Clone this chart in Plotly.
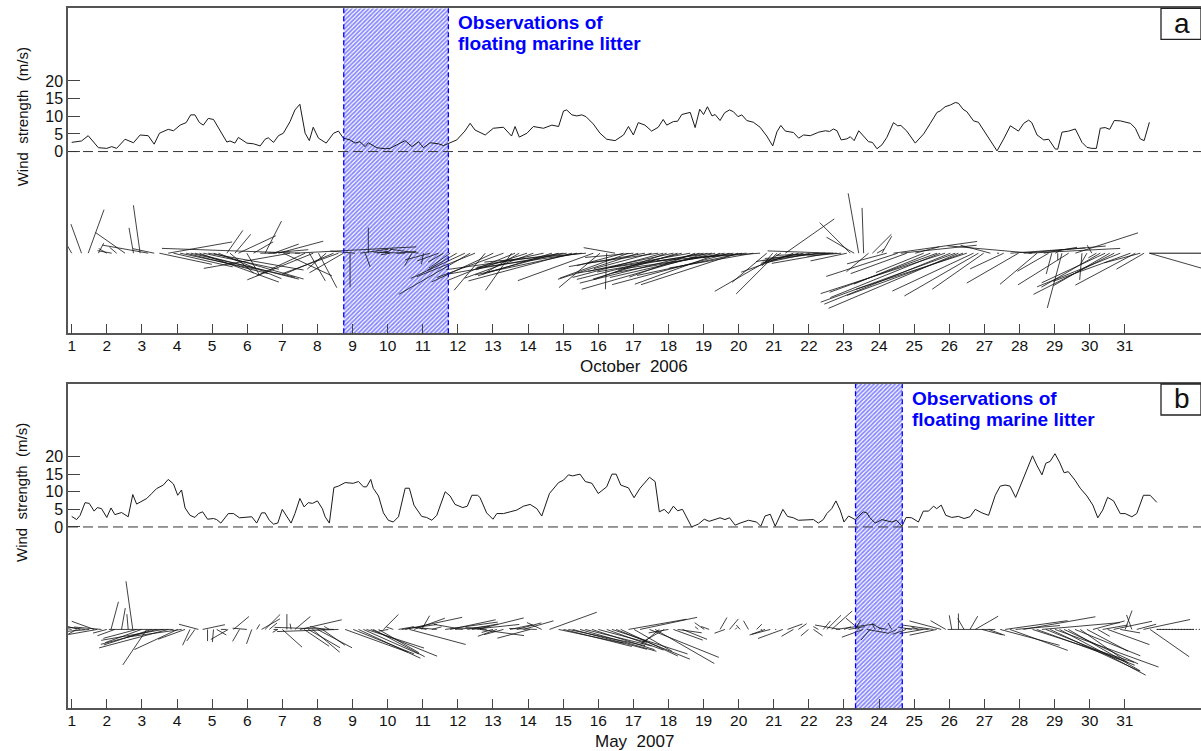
import math
import plotly.graph_objects as go

# ---------------- data ----------------
# Panel a: October 2006  (time in days, wind speed m/s, stick direction deg, 0=east/right, 90=up)
t_a = [1.0, 1.28, 1.47, 1.76, 2.0, 2.14, 2.28, 2.52, 2.76, 2.95, 3.18, 3.35, 3.5, 3.75, 3.9,
       4.09, 4.26, 4.39, 4.51, 4.64, 4.75, 4.89, 5.04, 5.18, 5.42, 5.51, 5.65, 5.75, 5.99, 6.18,
       6.37, 6.51, 6.6, 6.75, 6.89, 7.03, 7.22, 7.36, 7.5, 7.65, 7.77, 7.88, 8.03, 8.25, 8.46,
       8.6, 8.74, 8.93, 9.07, 9.21, 9.36, 9.45, 9.69, 9.93, 10.07, 10.26, 10.5, 10.69, 10.88, 11.02,
       11.21, 11.45, 11.59, 11.78, 11.97, 12.2, 12.35, 12.49, 12.78, 13.01, 13.3, 13.53, 13.63, 13.75, 13.97,
       14.15, 14.44, 14.68, 14.87, 15.01, 15.1, 15.25, 15.39, 15.53, 15.65, 15.86, 16.05, 16.24, 16.48, 16.72,
       16.86, 17.0, 17.14, 17.33, 17.52, 17.71, 17.85, 17.95, 18.14, 18.26, 18.38, 18.62, 18.76, 18.89, 19.0,
       19.11, 19.24, 19.33, 19.47, 19.6, 19.74, 19.85, 19.98, 20.09, 20.23, 20.42, 20.61, 20.8, 20.97, 21.09,
       21.2, 21.33, 21.56, 21.71, 21.85, 22.04, 22.28, 22.47, 22.59, 22.7, 22.8, 22.92, 23.08, 23.18, 23.29,
       23.42, 23.56, 23.7, 23.81, 23.94, 24.08, 24.22, 24.41, 24.53, 24.62, 24.79, 25.03, 25.27, 25.46, 25.65,
       25.74, 25.88, 26.03, 26.17, 26.26, 26.39, 26.5, 26.69, 26.83, 26.98, 27.17, 27.36, 27.55, 27.74, 27.97,
       28.12, 28.26, 28.35, 28.5, 28.69, 28.83, 28.92, 29.02, 29.09, 29.21, 29.4, 29.59, 29.78, 29.92, 30.06,
       30.19, 30.3, 30.44, 30.57, 30.7, 30.87, 31.16, 31.3, 31.44, 31.55, 31.7]
v_a = [2.6, 3.0, 4.5, 1.1, 0.9, 1.4, 0.9, 3.5, 2.5, 4.7, 4.5, 2.1, 5.2, 6.3, 5.9,
       7.5, 8.2, 10.4, 10.4, 8.2, 7.5, 9.4, 9.1, 6.6, 2.7, 3.0, 2.4, 4.0, 2.4, 2.2,
       1.6, 3.5, 3.9, 2.6, 4.5, 5.2, 8.5, 11.8, 13.4, 5.2, 3.1, 6.9, 3.8, 2.4, 5.2,
       5.8, 3.8, 3.3, 2.4, 2.8, 1.4, 2.5, 1.1, 0.8, 0.9, 1.9, 3.1, 1.4, 2.8, 1.1,
       2.5, 2.2, 1.7, 2.5, 3.3, 5.8, 8.0, 6.1, 4.7, 6.6, 6.9, 4.4, 7.1, 4.1, 5.2,
       7.1, 6.6, 7.5, 7.1, 11.5, 11.8, 10.4, 10.1, 10.4, 9.9, 7.8, 5.2, 3.5, 3.1, 4.7,
       7.1, 4.7, 8.2, 7.5, 5.8, 6.9, 9.1, 7.5, 8.5, 8.6, 10.5, 11.1, 6.8, 12.0, 10.5,
       12.7, 10.1, 10.5, 8.8, 11.0, 11.8, 11.3, 9.9, 10.4, 8.8, 8.3, 6.9, 4.4, 1.6, 5.6,
       7.4, 5.8, 5.4, 3.8, 4.7, 4.5, 5.5, 5.9, 5.7, 6.4, 5.9, 3.3, 3.6, 4.2, 3.1,
       5.9, 4.4, 2.8, 2.6, 0.8, 1.9, 4.0, 8.2, 7.3, 7.4, 5.8, 2.4, 5.0, 8.0, 11.1,
       11.5, 12.7, 13.2, 13.9, 13.7, 12.0, 11.3, 8.7, 8.3, 6.1, 3.0, 0.2, 3.6, 7.3, 5.8,
       8.0, 8.9, 8.2, 4.7, 3.3, 3.5, 2.1, 0.7, 0.7, 5.5, 5.8, 6.4, 2.6, 1.2, 0.9,
       0.9, 6.6, 6.8, 6.3, 8.8, 8.7, 8.0, 6.6, 3.6, 3.1, 8.3]
dir_a = [120, 110, 70, 62, 150, 170, 140, 145, 100, 98, 170, 168, -12, 10, -13,
         -12, -14, -13, -14, -20, -12, -10, -16, -22, 55, -40, 50, 25, -60, 30,
         0, 63, 5, 20, 15, -25, -170, 3, 178, -155, -60, -158, -62, -140, -157,
         -160, -150, -90, 175, 8, -70, 90, 10, 30, -170, 5, 178, -120, 172, -100,
         -165, -160, -150, -145, -150, -155, -150, -158, -130, -155, -160, -125, -158, -150, -162,
         -160, -168, -163, -165, -172, -170, -165, -168, -172, -175, -160, -140, -92, 170, -165,
         -160, -175, -162, -170, -165, -172, -165, -160, -168, -163, -166, -170, -160, -166, -170,
         -164, -172, -167, -160, -170, -165, -172, -162, -168, -175, -170, -176, -140, -130, -135,
         -150, 35, -160, -165, -170, -168, -172, -175, -170, 178, -178, -175, -168, 135, 150,
         100, 92, -140, 45, 30, 60, -165, 8, -162, 6, -160, 15, -158, -158, -160,
         -158, -162, -158, -160, -157, -160, -162, -155, -150, -145, 165, 0, -155, 4, -150,
         5, 3, 175, -140, 10, -150, -105, 30, -90, -105, -148, 18, -95, -120, 120,
         -150, -150, -155, -150, -153, -158, -160, -152, -165, -150, -16]

# Panel b: May 2007
t_b = [1.0, 1.14, 1.24, 1.38, 1.5, 1.64, 1.73, 1.85, 2.0, 2.12, 2.23, 2.42, 2.61, 2.74, 2.85,
       2.99, 3.14, 3.28, 3.42, 3.61, 3.75, 3.9, 4.02, 4.13, 4.23, 4.37, 4.51, 4.61, 4.73, 4.87,
       5.04, 5.13, 5.25, 5.46, 5.61, 5.78, 5.99, 6.13, 6.27, 6.41, 6.51, 6.63, 6.75, 6.87, 7.0,
       7.13, 7.25, 7.36, 7.5, 7.62, 7.74, 7.86, 8.0, 8.14, 8.22, 8.34, 8.47, 8.6, 8.79, 9.02,
       9.17, 9.31, 9.4, 9.52, 9.59, 9.74, 9.88, 10.02, 10.16, 10.31, 10.4, 10.5, 10.62, 10.75, 10.97,
       11.11, 11.26, 11.4, 11.64, 11.78, 11.92, 12.14, 12.27, 12.4, 12.56, 12.63, 12.82, 13.0, 13.11, 13.3,
       13.49, 13.68, 13.87, 14.06, 14.25, 14.39, 14.61, 14.87, 15.01, 15.15, 15.27, 15.48, 15.63, 15.82, 16.0,
       16.24, 16.39, 16.51, 16.64, 16.86, 17.02, 17.19, 17.46, 17.62, 17.74, 17.88, 18.0, 18.14, 18.26, 18.4,
       18.66, 18.85, 19.02, 19.16, 19.47, 19.61, 19.74, 19.9, 20.04, 20.28, 20.51, 20.63, 20.75, 20.9, 21.04,
       21.26, 21.39, 21.56, 21.7, 21.99, 22.13, 22.27, 22.41, 22.51, 22.65, 22.77, 22.89, 23.0, 23.13, 23.32,
       23.44, 23.55, 23.65, 23.74, 23.89, 24.08, 24.24, 24.36, 24.5, 24.65, 24.77, 24.93, 25.12, 25.26, 25.41,
       25.55, 25.64, 25.77, 25.9, 26.07, 26.26, 26.42, 26.59, 26.74, 26.93, 27.12, 27.31, 27.45, 27.59, 27.73,
       27.89, 28.11, 28.37, 28.49, 28.64, 28.75, 28.87, 29.01, 29.14, 29.27, 29.39, 29.58, 29.73, 29.92, 30.09,
       30.23, 30.37, 30.51, 30.68, 30.87, 31.01, 31.2, 31.34, 31.53, 31.72, 31.91]
v_b = [3.0, 2.1, 3.3, 6.9, 6.7, 4.5, 5.5, 5.2, 2.7, 5.4, 3.5, 4.1, 2.9, 9.2, 6.5,
       7.3, 8.1, 9.5, 10.9, 11.9, 13.5, 12.2, 9.0, 10.5, 5.4, 3.3, 2.7, 3.8, 4.3, 2.2,
       2.4, 2.1, 1.1, 3.8, 3.8, 2.6, 2.7, 2.9, 1.1, 4.0, 4.0, 1.9, 0.8, 1.1, 5.0,
       2.9, 1.1, 3.8, 8.1, 5.7, 6.9, 6.7, 7.4, 5.2, 2.9, 1.1, 11.2, 11.6, 12.6, 12.4,
       12.9, 11.4, 11.4, 13.5, 11.0, 8.8, 4.0, 1.9, 1.4, 2.9, 6.7, 11.0, 11.0, 6.2, 3.0,
       2.7, 1.9, 3.3, 10.0, 8.8, 6.4, 5.5, 5.9, 9.0, 9.0, 8.4, 4.0, 2.2, 3.8, 3.8,
       4.3, 4.8, 5.9, 6.4, 5.2, 3.1, 9.5, 12.6, 13.3, 14.8, 14.5, 15.0, 12.9, 12.4, 9.5,
       11.4, 15.0, 15.0, 11.9, 11.1, 8.3, 11.0, 14.1, 12.9, 4.3, 5.0, 3.8, 5.9, 4.6, 5.0,
       0.0, 0.8, 2.2, 1.6, 2.6, 2.1, 2.6, 0.5, 1.1, 1.9, 1.4, 0.2, 3.1, 3.6, 0.2,
       5.0, 3.0, 2.6, 1.9, 1.9, 2.1, 1.1, 2.1, 3.8, 5.2, 7.4, 4.8, 1.4, 3.1, 2.1,
       3.3, 4.3, 4.0, 2.6, 1.1, 2.1, 1.7, 1.4, 1.9, 0.2, 2.7, 2.6, 1.4, 4.5, 4.5,
       5.9, 5.2, 6.2, 3.3, 2.7, 3.0, 2.4, 2.9, 5.0, 4.0, 3.3, 9.0, 11.6, 11.9, 11.6,
       8.4, 13.8, 20.2, 17.6, 14.8, 18.1, 18.6, 20.8, 18.4, 15.4, 15.7, 13.3, 11.0, 8.8, 6.2,
       2.6, 4.8, 8.4, 7.4, 3.8, 3.8, 2.9, 3.8, 9.0, 9.0, 7.0]
dir_b = [170, -150, 168, 172, -175, 160, -170, 175, -165, 75, -160, 80, 95, 98, -165,
         -160, -124, -162, -165, -170, -165, 180, -155, -172, -160, -115, -125, 165, 12, -90,
         -95, -30, 0, -150, 40, -120, 175, -110, 60, 30, 45, 40, 0, -150, -42,
         90, 100, 40, 13, -34, -30, -40, -28, -35, 170, 150, 178, -178, -20, -22,
         -25, -24, -18, -22, -28, -30, 45, -170, 160, 10, 8, 12, -15, 20, 60,
         170, 15, 175, 8, 12, 5, 170, 10, 6, 14, -8, 175, -165, -160, -165,
         12, 15, 16, -165, 178, 155, 20, -12, -14, -12, -15, -16, -14, -18, -15,
         -20, -18, -22, -25, 10, -30, 12, -22, -30, -140, -150, -170, -20, -8, -22,
         0, 140, 145, 160, 60, -160, 50, 45, 130, 120, 45, 0, -160, -165, 0,
         -160, 20, -150, 35, -140, -35, 150, 50, 45, 42, 8, 170, 20, 10, 60,
         140, -160, -10, -130, 120, 150, 170, 120, -155, 0, -160, 170, 160, -170, 178,
         172, -168, 165, 150, 100, 90, 120, 60, 30, -15, -20, 180, -15, 8, -20,
         5, 10, -18, -20, 5, -22, -25, -20, -28, -25, -30, -22, -35, -28, 15,
         -30, 10, -20, 12, -10, 70, 110, 15, 12, -35, 0]

day_ticks = list(range(1, 32))
strength_ticks = [0, 5, 10, 15, 20]
obs_a = [8.75, 11.73]          # observation window, October 2006
obs_b = [23.33, 24.66]         # observation window, May 2007
month_a = "October\u00a0 2006"
month_b = "May\u00a0 2007"
ylabel = "Wind\u00a0 strength\u00a0 (m/s)"
obs_lines = ["Observations of", "floating marine litter"]

# ---------------- geometry ----------------
W, H = 1201, 751
LEFT_PX = 68
X_RANGE = [0.895, 33.17]
Y_RANGE = [-51.5, 40.6]
dom_a = [1 - 333.3 / H, 1 - 8.3 / H]
dom_b = [1 - 708.3 / H, 1 - 384.0 / H]
plot_h_px = (dom_a[1] - dom_a[0]) * H
px_per_day = (W - LEFT_PX) / (X_RANGE[1] - X_RANGE[0])
px_per_unit = plot_h_px / (Y_RANGE[1] - Y_RANGE[0])

BASE_A, BASE_B = -28.8, -29.1       # stick-plot baselines (axis units)
SCALE_A, SCALE_B = 10.3, 5.3        # stick length, px per m/s

FONT = "Liberation Sans, Arial, Helvetica, sans-serif"
BLUE = "#0000ff"


def sticks(t, v, d, base, scale):
    xs, ys = [], []
    for ti, vi, di in zip(t, v, d):
        L = vi * scale
        a = math.radians(di)
        xs += [ti, ti + L * math.cos(a) / px_per_day, None]
        ys += [base, base + L * math.sin(a) / px_per_unit, None]
    return xs, ys


fig = go.Figure()

for (xa, ya, obs) in [("x", "y", obs_a), ("x2", "y2", obs_b)]:
    fig.add_trace(go.Scatter(
        x=[obs[0], obs[1], obs[1], obs[0], obs[0]],
        y=[Y_RANGE[0], Y_RANGE[0], Y_RANGE[1], Y_RANGE[1], Y_RANGE[0]],
        xaxis=xa, yaxis=ya, mode="lines", fill="toself",
        line=dict(width=0, color="rgba(0,0,0,0)"),
        fillcolor="rgba(255,255,255,0)",
        fillpattern=dict(shape="/", fgcolor="#1010ff", bgcolor="#ffffff",
                         size=3, solidity=0.6),
        hoverinfo="skip", showlegend=False))

for (xa, ya, t, v, d, base, scale) in [("x", "y", t_a, v_a, dir_a, BASE_A, SCALE_A),
                                       ("x2", "y2", t_b, v_b, dir_b, BASE_B, SCALE_B)]:
    fig.add_trace(go.Scatter(x=t, y=v, xaxis=xa, yaxis=ya, mode="lines",
                             line=dict(color="#1a1a1a", width=1), showlegend=False))
    sx, sy = sticks(t, v, d, base, scale)
    fig.add_trace(go.Scatter(x=sx, y=sy, xaxis=xa, yaxis=ya, mode="lines",
                             line=dict(color="#111111", width=0.8), showlegend=False,
                             hoverinfo="skip"))

# baseline continuation to the right edge
fig.add_trace(go.Scatter(x=[t_a[-1], X_RANGE[1]], y=[BASE_A, BASE_A], xaxis="x", yaxis="y",
                         mode="lines", line=dict(color="#111111", width=1), showlegend=False))
fig.add_trace(go.Scatter(x=[t_b[-1], X_RANGE[1]], y=[BASE_B, BASE_B], xaxis="x2", yaxis="y2",
                         mode="lines", line=dict(color="#111111", width=1, dash="1px,2px"),
                         showlegend=False))

shapes = []
annotations = []
for (xr, yr, obs, dom, label, month) in [("x", "y", obs_a, dom_a, "a", month_a),
                                          ("x2", "y2", obs_b, dom_b, "b", month_b)]:
    # zero line
    shapes.append(dict(type="line", xref=xr + " domain", yref=yr, x0=0, x1=1, y0=0, y1=0,
                       line=dict(color="#333333", width=1, dash="10px,5px")))
    # dashed edges of the observation window
    for xe in obs:
        shapes.append(dict(type="line", xref=xr, yref=yr + " domain", x0=xe, x1=xe, y0=0, y1=1,
                           line=dict(color=BLUE, width=1.3, dash="5px,3px")))
    # panel label box
    top_px = (1 - dom[1]) * H
    shapes.append(dict(type="rect", xref="paper", yref="paper",
                       x0=1161 / W, x1=1.0, y0=1 - (top_px + 31) / H, y1=dom[1],
                       line=dict(color="#222222", width=1.3), fillcolor="white"))
    annotations.append(dict(text=label, xref="paper", yref="paper", x=1182 / W,
                            y=1 - (top_px + 15) / H, xanchor="center", yanchor="middle",
                            showarrow=False, font=dict(family=FONT, size=28, color="#111111")))
    for k, line in enumerate(obs_lines):
        annotations.append(dict(text=line, xref=xr, yref="paper", x=obs[1], xshift=8,
                                y=1 - (top_px + 14 + 21 * k) / H, xanchor="left",
                                yanchor="middle", align="left", showarrow=False,
                                font=dict(family=FONT, size=19, color=BLUE, weight="bold")))
    annotations.append(dict(text=ylabel, xref="paper", yref="paper", x=22 / W,
                            y=1 - (top_px + 109) / H, textangle=-90, xanchor="center",
                            yanchor="middle", showarrow=False,
                            font=dict(family=FONT, size=15, color="#111111")))
    bottom_px = (1 - dom[0]) * H
    annotations.append(dict(text=month, xref="paper", yref="paper", x=634 / W,
                            y=1 - (bottom_px + 33) / H, xanchor="center", yanchor="middle",
                            showarrow=False, font=dict(family=FONT, size=17, color="#111111")))

axis_common_x = dict(range=X_RANGE, domain=[LEFT_PX / W, 1], tickvals=day_ticks,
                     ticks="inside", ticklen=10, tickwidth=1, tickcolor="#444444",
                     showline=True, linecolor="#555555", linewidth=1.5, mirror=True,
                     showgrid=False, zeroline=False, ticklabelstandoff=-3,
                     tickfont=dict(family=FONT, size=15.5, color="#111111"))
axis_common_y = dict(range=Y_RANGE, tickvals=strength_ticks, ticks="inside", ticklen=12,
                     tickwidth=1, tickcolor="#444444", showline=True, linecolor="#555555",
                     linewidth=1.5, showgrid=False, zeroline=False,
                     tickfont=dict(family=FONT, size=16, color="#111111"))

fig.update_layout(
    width=W, height=H, margin=dict(l=0, r=0, t=0, b=0),
    paper_bgcolor="white", plot_bgcolor="white", showlegend=False,
    xaxis=dict(anchor="y", **axis_common_x),
    yaxis=dict(anchor="x", domain=dom_a, **axis_common_y),
    xaxis2=dict(anchor="y2", **axis_common_x),
    yaxis2=dict(anchor="x2", domain=dom_b, **axis_common_y),
    shapes=shapes, annotations=annotations,
)

fig.write_html("out.html", config={"displayModeBar": False},
               post_script="document.body.style.margin='0';document.body.style.overflow='hidden';")
